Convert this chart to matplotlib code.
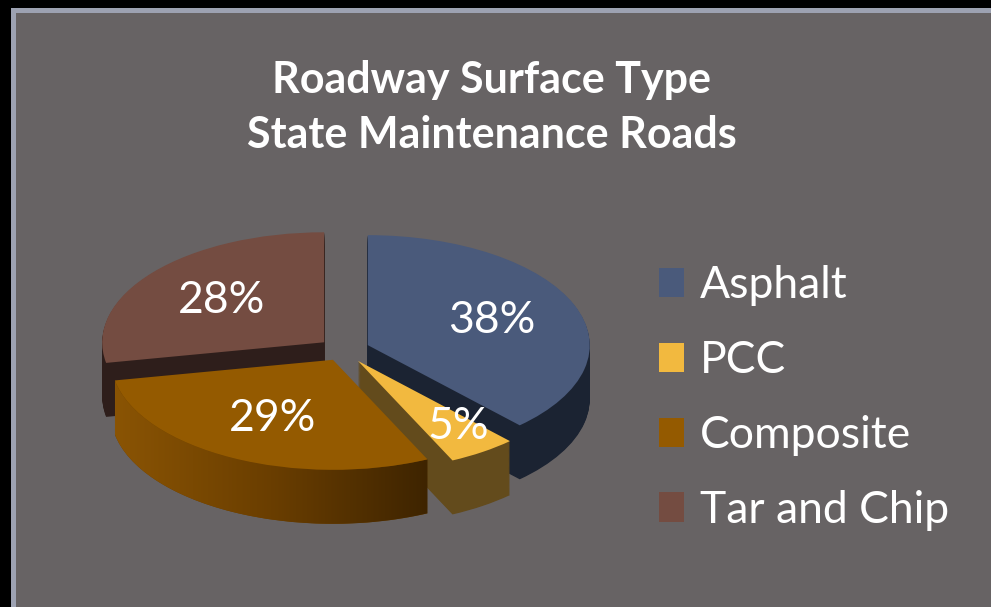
import numpy as np
import matplotlib
matplotlib.use("Agg")
import matplotlib.pyplot as plt
from matplotlib.patches import Rectangle
from matplotlib.colors import LinearSegmentedColormap

# --- data ---
TITLE_LINES = ["Roadway Surface Type", "State Maintenance Roads"]
categories = ["Asphalt", "PCC", "Composite", "Tar and Chip"]
shares = [38, 5, 29, 28]

# --- style ---
top_colors = ["#4a5a7b", "#f2b93f", "#945a00", "#744c41"]
side_colors = ["#1b2332", "#634b1c", "#6a3f00", "#2e1e1b"]
explode = [0.12, 0.12, 0.10, 0.11]
PANEL = "#676364"
BORDER = "#9da2b2"

plt.rcParams["font.family"] = ["Lato", "DejaVu Sans"]

W, H = 991, 607
# pie geometry in image pixels
CX, CY, RX, RY = 343, 350, 222, 110
DEPTH_PX = 54

fig = plt.figure(figsize=(W / 100, H / 100), dpi=100, facecolor="black")

# slide panel with light border on top / left
fig.patches.append(Rectangle((12.5 / W, -0.05), 1.1, 1 - 9.5 / H + 0.05,
                             transform=fig.transFigure, facecolor=PANEL,
                             edgecolor=BORDER, linewidth=3.6, zorder=-10))

# axes laid out so that one data unit = RX px across and RY px up
left, right, top, bottom = 60, 660, 200, 560
ax = fig.add_axes([left / W, 1 - bottom / H, (right - left) / W, (bottom - top) / H])
ax.set_facecolor("none")
ax.set_zorder(1)

depth = DEPTH_PX / RY
n_layers = 60
common = dict(explode=explode, startangle=90, counterclock=False, radius=1, frame=True)

# --- 3D side walls: stacked copies of the pie ---
for k in range(n_layers, 0, -1):
    dz = depth * k / n_layers
    ax.pie(shares, colors=side_colors, center=(0, -dz),
           wedgeprops=dict(linewidth=0, zorder=1), **common)

# gradient on the outer wall of the composite slice
fr = np.array(shares) / sum(shares)
edges = 90 - 360 * np.r_[0, np.cumsum(fr)]
i = categories.index("Composite")
t = np.radians(np.linspace(edges[i + 1], edges[i], 200))
mid = np.radians((edges[i] + edges[i + 1]) / 2)
ox, oy = explode[i] * np.cos(mid), explode[i] * np.sin(mid)
xs = ox + np.cos(t)
ytop = oy + np.sin(t)
ybot = ytop - depth
band = ax.fill_between(xs, ybot, ytop, facecolor="none", edgecolor="none")
wall_cmap = LinearSegmentedColormap.from_list("wall", ["#8a5404", "#6a3e00", "#3e2400"])
im = ax.imshow(np.linspace(0, 1, 256)[None, :], cmap=wall_cmap, aspect="auto",
               extent=[xs.min(), xs.max(), ybot.min(), ytop.max()], zorder=1.5)
im.set_clip_path(band.get_paths()[0], ax.transData)

# --- top faces ---
wedges, _, pct = ax.pie(shares, colors=top_colors, autopct="%.0f%%", pctdistance=0.6,
                        wedgeprops=dict(linewidth=0, zorder=2),
                        textprops=dict(color="white", fontsize=32, zorder=3), **common)
# small PCC slice: label sits further out
w = wedges[1]
a = np.radians((w.theta1 + w.theta2) / 2)
pct[1].set_position((w.center[0] + 0.8 * np.cos(a), w.center[1] + 0.72 * np.sin(a)))

ax.set_aspect("auto")
ax.set_xlim((left - CX) / RX, (right - CX) / RX)
ax.set_ylim((CY - bottom) / RY, (CY - top) / RY)
ax.axis("off")

ax.legend(wedges, categories, loc="center left",
          bbox_to_anchor=(659 / W, 1 - 398 / H), bbox_transform=fig.transFigure,
          frameon=False, fontsize=32, labelcolor="white",
          handlelength=0.56, handleheight=0.63, handletextpad=0.36,
          labelspacing=0.76, borderpad=0, borderaxespad=0)

for line, y in zip(TITLE_LINES, [93, 148]):
    fig.text(492 / W, 1 - y / H, line, ha="center", va="baseline",
             fontsize=31, fontweight="bold", color="white")

fig.savefig("out.png", dpi=100, facecolor=fig.get_facecolor())
